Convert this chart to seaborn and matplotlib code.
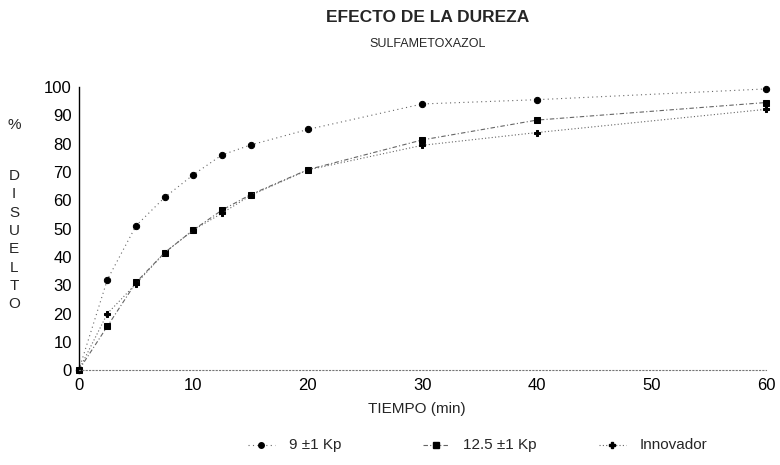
import matplotlib
matplotlib.use("Agg")
import matplotlib.pyplot as plt
import seaborn as sns
import pandas as pd

# Dissolution profiles of sulfamethoxazole tablets at different hardness
tiempo = [0, 2.5, 5, 7.5, 10, 12.5, 15, 20, 30, 40, 60]
kp_9 = [0, 32, 51, 61, 69, 76, 79.5, 85, 94, 95.5, 99.3]
kp_12_5 = [0, 15.5, 31, 41.5, 49.5, 56.5, 62, 70.8, 81.3, 88.3, 94.5]
innovador = [0, 20, 30.5, 41.5, 49.5, 55.4, 61.7, 70.7, 79.4, 83.9, 92.1]
series_names = ["9 ±1 Kp", "12.5 ±1 Kp", "Innovador"]
x_ticks = [0, 10, 20, 30, 40, 50, 60]
y_ticks = list(range(0, 101, 10))

df = pd.DataFrame({
    "t": tiempo * 3,
    "v": kp_9 + kp_12_5 + innovador,
    "s": [series_names[0]] * len(tiempo) + [series_names[1]] * len(tiempo)
         + [series_names[2]] * len(tiempo),
})

sns.set_theme(style="white")
plt.rcParams["font.family"] = ["Liberation Sans", "DejaVu Sans"]

fig = plt.figure(figsize=(7.8, 4.65), dpi=100)
ax = fig.add_axes([0.101, 0.204, 0.881, 0.609])

palette = {n: "#222222" for n in series_names}
markers = {series_names[0]: "o", series_names[1]: "s", series_names[2]: "P"}
dashes = {series_names[0]: (1, 3), series_names[1]: (4, 2, 1, 2), series_names[2]: (1, 2)}
sns.lineplot(data=df, x="t", y="v", hue="s", style="s", palette=palette,
             markers=markers, dashes=dashes, markersize=4.5, linewidth=0.8,
             markeredgecolor="black", ax=ax, legend=False, clip_on=False)
for line in ax.lines:
    line.set_color("#666666")
    line.set_markerfacecolor("black")
    line.set_markeredgecolor("black")
    line.set_clip_on(False)

ax.set_xlim(0, 60)
ax.set_ylim(0, 100)
ax.set_xticks(x_ticks)
ax.set_yticks(y_ticks)
ax.tick_params(axis="both", length=0, labelsize=12, colors="black")
ax.tick_params(axis="y", pad=5)
ax.tick_params(axis="x", pad=6)
for side in ["top", "right"]:
    ax.spines[side].set_visible(False)
ax.spines["left"].set_color("black")
ax.spines["left"].set_linewidth(1.0)
ax.spines["bottom"].set_color("#777777")
ax.spines["bottom"].set_linestyle((0, (1, 2)))
ax.spines["bottom"].set_linewidth(0.8)
ax.set_xlabel("")
ax.set_ylabel("")

fig.text(0.548, 0.963, "EFECTO DE LA DUREZA", ha="center", va="center",
         fontsize=12.5, fontweight="bold")
fig.text(0.548, 0.905, "SULFAMETOXAZOL", ha="center", va="center", fontsize=9)
fig.text(0.535, 0.12, "TIEMPO (min)", ha="center", va="center", fontsize=11)

# vertical axis caption, one letter per row
fig.text(0.018, 0.731, "%", ha="center", va="center", fontsize=11)
for i, ch in enumerate("DISUELTO"):
    fig.text(0.018, 1 - (176 + i * 18.3) / 465, ch, ha="center", va="center", fontsize=11)

# legend row
leg_x = [0.37, 0.594, 0.82]
for n, lx in zip(series_names, leg_x):
    fig.lines.append(plt.Line2D([lx - 0.052, lx - 0.035, lx - 0.018], [0.043] * 3,
                                transform=fig.transFigure, color="#666666",
                                linestyle=(0, dashes[n]), linewidth=0.8,
                                marker=markers[n], markevery=[1], markersize=4,
                                markerfacecolor="black", markeredgecolor="black"))
    fig.text(lx, 0.043, n, ha="left", va="center", fontsize=11)

fig.savefig("out.png", dpi=100)
